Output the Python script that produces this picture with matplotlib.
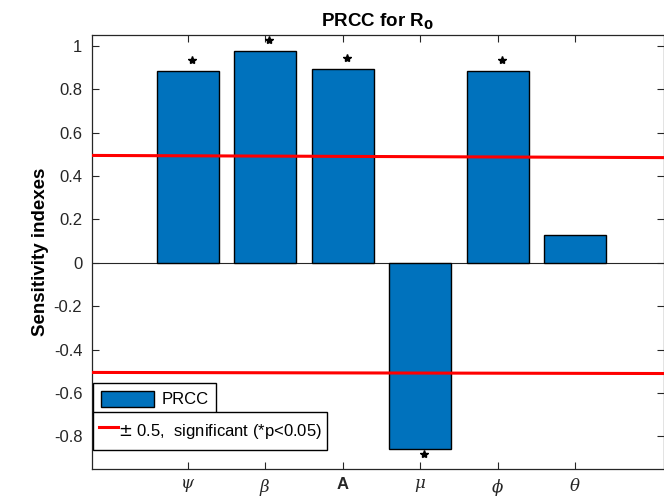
import matplotlib
matplotlib.use("Agg")
import matplotlib.pyplot as plt
import numpy as np
from matplotlib.patches import Patch
from matplotlib.lines import Line2D

plt.rcParams['font.family'] = ['Liberation Sans', 'DejaVu Sans']
plt.rcParams['mathtext.fontset'] = 'dejavuserif'

categories = [r'$\psi$', r'$\beta$', 'A', r'$\mu$', r'$\phi$', r'$\theta$']
prcc = [0.886, 0.974, 0.893, -0.857, 0.885, 0.129]
significant = [True, True, True, True, True, False]
star_levels = [0.935, 1.028, 0.943, -0.880, 0.935, None]
thresh_upper = [0.495, 0.485]
thresh_lower = [-0.505, -0.510]

fig = plt.figure(figsize=(6.64, 4.99), dpi=100)
ax = fig.add_axes([92/664, 30/499, (663.5-92)/664, (469-35)/499])

x = np.arange(1, len(categories) + 1)
ax.set_xlim(-0.235, 7.14)
ax.set_ylim(-0.95, 1.05)

bars = ax.bar(x, prcc, width=0.8, color='#0072BD', edgecolor='black', linewidth=1.0, zorder=2)
ax.axhline(0, color='#262626', linewidth=0.8, zorder=1)

xs_star = [xi + 0.05 for xi, s in zip(x, significant) if s]
ys_star = [lv for lv, s in zip(star_levels, significant) if s]
ax.plot(xs_star, ys_star, linestyle='none', marker='*', color='black', markersize=6, zorder=4, clip_on=False)

xl = ax.get_xlim()
ax.plot(xl, thresh_upper, color='#FF0000', linewidth=2.2, zorder=3)
ax.plot(xl, thresh_lower, color='#FF0000', linewidth=2.2, zorder=3)

ax.set_xticks(x)
ax.set_xticklabels(categories)
for lbl in ax.get_xticklabels():
    if lbl.get_text() == 'A':
        lbl.set_fontweight('bold')
        lbl.set_color('#1a1a1a')
        lbl.set_fontsize(12)
    else:
        lbl.set_color('#444444')
        lbl.set_fontsize(11.5)
ax.set_yticks(np.arange(-0.8, 1.01, 0.2))
ax.set_yticklabels(['-0.8', '-0.6', '-0.4', '-0.2', '0', '0.2', '0.4', '0.6', '0.8', '1'])
ax.tick_params(direction='in', length=5, width=0.8, colors='#262626', labelsize=12,
               top=True, right=True, pad=7)
ax.tick_params(axis='x', pad=6)
for sp in ax.spines.values():
    sp.set_color('#262626')
    sp.set_linewidth(0.9)

ax.set_ylabel('Sensitivity indexes', fontweight='bold', fontsize=13.5, labelpad=3)
t = ax.set_title(r'PRCC for R$_\mathbf{0}$', fontweight='bold', fontsize=13.5, pad=6)
t.set_math_fontfamily('dejavusans')

leg1 = ax.legend(handles=[Patch(facecolor='#0072BD', edgecolor='black', linewidth=1.0)],
                 labels=['PRCC'], loc='upper left',
                 bbox_to_anchor=(93/664, 1 - 383/499), bbox_transform=fig.transFigure,
                 fancybox=False, framealpha=1, edgecolor='black', fontsize=12,
                 handlelength=3.2, handleheight=1.1, borderpad=0.45, handletextpad=0.48,
                 borderaxespad=0)
leg1.get_frame().set_linewidth(1.0)
ax.add_artist(leg1)
leg2 = ax.legend(handles=[Line2D([0], [0], color='#FF0000', linewidth=2.2)],
                 labels=[r'$\pm$ 0.5,  significant (*p<0.05)'], loc='upper left',
                 bbox_to_anchor=(93/664, 1 - 412/499), bbox_transform=fig.transFigure,
                 fancybox=False, framealpha=1, edgecolor='black', fontsize=12,
                 handlelength=1.15, handleheight=2.15, borderpad=0.33, handletextpad=0.0,
                 borderaxespad=0)
leg2.get_frame().set_linewidth(1.0)
for txt in leg2.get_texts():
    txt.set_math_fontfamily('dejavusans')

fig.savefig('out.png', dpi=100)
